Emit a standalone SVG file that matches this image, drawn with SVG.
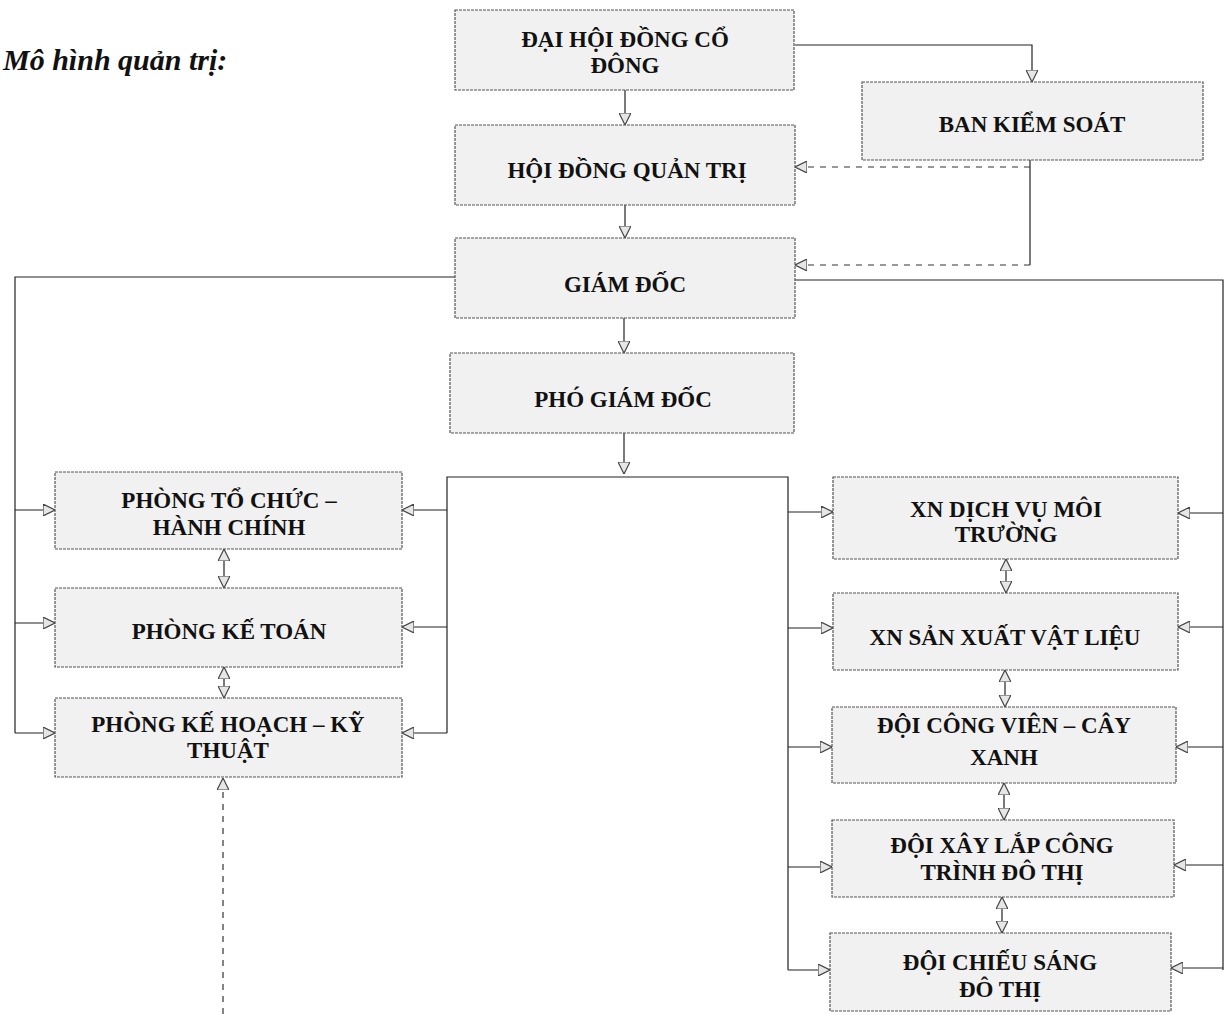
<svg xmlns="http://www.w3.org/2000/svg" width="1228" height="1014" viewBox="0 0 1228 1014">
<style>
.box{fill:#f1f1f1;stroke:#555;stroke-width:1.2;stroke-dasharray:3 1}
.t{font-family:"Liberation Serif","Times New Roman",serif;font-weight:bold;font-size:23px;fill:#111;text-anchor:middle}
.ttl{font-family:"Liberation Serif","Times New Roman",serif;font-weight:bold;font-style:italic;font-size:30px;fill:#111}
.c{fill:none;stroke:#222;stroke-width:1.2}
.d{fill:none;stroke:#333;stroke-width:1.2;stroke-dasharray:6 6}
</style>
<defs>
<marker id="a" viewBox="0 0 10 10" refX="10" refY="5" markerWidth="12" markerHeight="12" orient="auto-start-reverse" markerUnits="userSpaceOnUse">
<path d="M0,0 L10,5 L0,10 Z" fill="#e6e6e6" stroke="#444" stroke-width="1"/>
</marker>
</defs>
<rect width="1228" height="1014" fill="#fff"/>
<text class="ttl" x="3" y="70">Mô hình quản trị:</text>

<g id="connectors">
<line class="c" x1="625" y1="90" x2="625" y2="125" marker-end="url(#a)"/>
<line class="c" x1="625" y1="205" x2="625" y2="238" marker-end="url(#a)"/>
<line class="c" x1="624" y1="318" x2="624" y2="353" marker-end="url(#a)"/>
<line class="c" x1="624" y1="433" x2="624" y2="474" marker-end="url(#a)"/>
<polyline class="c" points="795,45 1032,45 1032,82" marker-end="url(#a)"/>
<line class="c" x1="1030" y1="160" x2="1030" y2="265"/>
<line class="d" x1="1030" y1="167" x2="795" y2="167" marker-end="url(#a)"/>
<line class="d" x1="1030" y1="265" x2="795" y2="265" marker-end="url(#a)"/>
<polyline class="c" points="455,277 15,277 15,733"/>
<line class="c" x1="15" y1="510" x2="55" y2="510" marker-end="url(#a)"/>
<line class="c" x1="15" y1="623" x2="55" y2="623" marker-end="url(#a)"/>
<line class="c" x1="15" y1="733" x2="55" y2="733" marker-end="url(#a)"/>
<polyline class="c" points="447,733 447,477 788,477 788,970"/>
<line class="c" x1="447" y1="510" x2="402" y2="510" marker-end="url(#a)"/>
<line class="c" x1="447" y1="627" x2="402" y2="627" marker-end="url(#a)"/>
<line class="c" x1="447" y1="733" x2="402" y2="733" marker-end="url(#a)"/>
<line class="c" x1="224" y1="549" x2="224" y2="588" marker-start="url(#a)" marker-end="url(#a)"/>
<line class="c" x1="224" y1="667" x2="224" y2="698" marker-start="url(#a)" marker-end="url(#a)"/>
<line class="d" x1="223" y1="1014" x2="223" y2="778" marker-end="url(#a)"/>
<line class="c" x1="788" y1="512" x2="833" y2="512" marker-end="url(#a)"/>
<line class="c" x1="788" y1="628" x2="833" y2="628" marker-end="url(#a)"/>
<line class="c" x1="788" y1="747" x2="832" y2="747" marker-end="url(#a)"/>
<line class="c" x1="788" y1="867" x2="832" y2="867" marker-end="url(#a)"/>
<line class="c" x1="788" y1="970" x2="830" y2="970" marker-end="url(#a)"/>
<polyline class="c" points="795,280 1223,280 1223,970"/>
<line class="c" x1="1223" y1="513" x2="1178" y2="513" marker-end="url(#a)"/>
<line class="c" x1="1223" y1="627" x2="1178" y2="627" marker-end="url(#a)"/>
<line class="c" x1="1223" y1="747" x2="1176" y2="747" marker-end="url(#a)"/>
<line class="c" x1="1223" y1="865" x2="1174" y2="865" marker-end="url(#a)"/>
<line class="c" x1="1223" y1="968" x2="1171" y2="968" marker-end="url(#a)"/>
<line class="c" x1="1006" y1="559" x2="1006" y2="593" marker-start="url(#a)" marker-end="url(#a)"/>
<line class="c" x1="1005" y1="670" x2="1005" y2="707" marker-start="url(#a)" marker-end="url(#a)"/>
<line class="c" x1="1004" y1="783" x2="1004" y2="820" marker-start="url(#a)" marker-end="url(#a)"/>
<line class="c" x1="1002" y1="897" x2="1002" y2="933" marker-start="url(#a)" marker-end="url(#a)"/>
</g>

<g id="dhdcd"><rect class="box" x="455" y="10" width="339" height="80"/>
<text class="t" x="625" y="47">ĐẠI HỘI ĐỒNG CỔ</text><text class="t" x="625" y="73">ĐÔNG</text></g>
<g id="hdqt"><rect class="box" x="455" y="125" width="340" height="80"/>
<text class="t" x="627" y="178">HỘI ĐỒNG QUẢN TRỊ</text></g>
<g id="bks"><rect class="box" x="862" y="82" width="341" height="78"/>
<text class="t" x="1032" y="132">BAN KIỂM SOÁT</text></g>
<g id="gd"><rect class="box" x="455" y="238" width="340" height="80"/>
<text class="t" x="625" y="292">GIÁM ĐỐC</text></g>
<g id="pgd"><rect class="box" x="450" y="353" width="344" height="80"/>
<text class="t" x="623" y="407">PHÓ GIÁM ĐỐC</text></g>

<g id="tchc"><rect class="box" x="55" y="472" width="347" height="77"/>
<text class="t" x="229" y="508">PHÒNG TỔ CHỨC –</text><text class="t" x="229" y="535">HÀNH CHÍNH</text></g>
<g id="kt"><rect class="box" x="55" y="588" width="347" height="79"/>
<text class="t" x="229" y="639">PHÒNG KẾ TOÁN</text></g>
<g id="khkt"><rect class="box" x="55" y="698" width="347" height="79"/>
<text class="t" x="228" y="732">PHÒNG KẾ HOẠCH – KỸ</text><text class="t" x="228" y="758">THUẬT</text></g>

<g id="xndv"><rect class="box" x="833" y="477" width="345" height="82"/>
<text class="t" x="1006" y="517">XN DỊCH VỤ MÔI</text><text class="t" x="1006" y="542">TRƯỜNG</text></g>
<g id="xnsx"><rect class="box" x="833" y="593" width="345" height="77"/>
<text class="t" x="1005" y="645">XN SẢN XUẤT VẬT LIỆU</text></g>
<g id="dcv"><rect class="box" x="832" y="707" width="344" height="76"/>
<text class="t" x="1004" y="733">ĐỘI CÔNG VIÊN – CÂY</text><text class="t" x="1004" y="765">XANH</text></g>
<g id="dxl"><rect class="box" x="832" y="820" width="342" height="77"/>
<text class="t" x="1002" y="853">ĐỘI XÂY LẮP CÔNG</text><text class="t" x="1002" y="880">TRÌNH ĐÔ THỊ</text></g>
<g id="dcs"><rect class="box" x="830" y="933" width="341" height="78"/>
<text class="t" x="1000" y="970">ĐỘI CHIẾU SÁNG</text><text class="t" x="1000" y="997">ĐÔ THỊ</text></g>
</svg>
